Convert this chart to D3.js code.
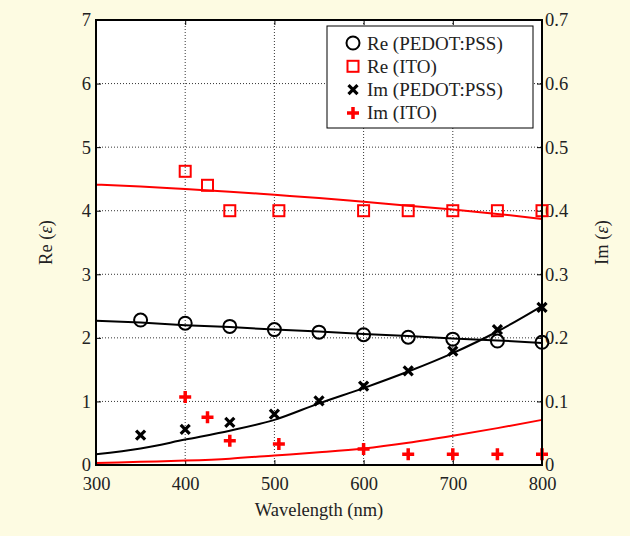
<!DOCTYPE html>
<html>
<head>
<meta charset="utf-8">
<script src="https://cdn.jsdelivr.net/npm/d3@7"></script>
<style>
  body { margin: 0; background: #fdfbe2; }
  svg { display: block; }
  text { font-family: "Liberation Serif", "Times New Roman", serif; fill: #222; }
</style>
</head>
<body>
<div id="chart"></div>
<script>
// valores
const wlMeasured = [350, 400, 450, 500, 550, 600, 650, 700, 750, 800];
const rePedot = [2.28, 2.23, 2.18, 2.13, 2.09, 2.05, 2.01, 1.98, 1.95, 1.93];
const imPedot = [0.047, 0.056, 0.067, 0.080, 0.101, 0.124, 0.148, 0.179, 0.213, 0.248];

const wlIto = [400, 425, 450, 505, 600, 650, 700, 750, 800];
const reIto = [4.62, 4.40, 4.00, 4.00, 4.00, 4.00, 4.00, 4.00, 4.00];
const imIto = [0.107, 0.075, 0.038, 0.033, 0.025, 0.017, 0.017, 0.017, 0.017];

// curvas de ajuste
const wlFit = [300, 350, 400, 450, 500, 550, 600, 650, 700, 750, 800];
const rePedotFit = [2.27, 2.24, 2.20, 2.17, 2.13, 2.10, 2.06, 2.03, 1.99, 1.96, 1.92];
const imPedotFit = [0.017, 0.026, 0.040, 0.054, 0.071, 0.097, 0.121, 0.147, 0.176, 0.210, 0.250];
const reItoFit = [4.41, 4.38, 4.34, 4.30, 4.25, 4.20, 4.14, 4.08, 4.02, 3.95, 3.87];
const imItoFit = [0.003, 0.005, 0.007, 0.010, 0.015, 0.020, 0.026, 0.035, 0.046, 0.058, 0.071];

const xTicks = [300, 400, 500, 600, 700, 800];
const yTicks = [0, 1, 2, 3, 4, 5, 6, 7];
const y2Ticks = [0, 0.1, 0.2, 0.3, 0.4, 0.5, 0.6, 0.7];

const legendItems = [
    { label: 'Re (PEDOT:PSS)', type: 'circle' },
    { label: 'Re (ITO)', type: 'square' },
    { label: 'Im (PEDOT:PSS)', type: 'cross' },
    { label: 'Im (ITO)', type: 'plus' }
];

const width = 630, height = 536;
const margin = { top: 20, right: 88, bottom: 71, left: 96 };
const pw = width - margin.left - margin.right;
const ph = height - margin.top - margin.bottom;
const fs = '18.5px';

const svg = d3.select('#chart').append('svg')
    .attr('width', width)
    .attr('height', height);

const g = svg.append('g').attr('transform', `translate(${margin.left},${margin.top})`);

const x = d3.scaleLinear().domain([300, 800]).range([0, pw]);
const y = d3.scaleLinear().domain([0, 7]).range([ph, 0]);
const y2 = d3.scaleLinear().domain([0, 0.7]).range([ph, 0]);

g.append('rect').attr('width', pw).attr('height', ph).attr('fill', '#fff');

// rejilla punteada
g.selectAll('line.gx').data(xTicks.slice(1, -1)).enter().append('line')
    .attr('x1', (d) => x(d)).attr('x2', (d) => x(d))
    .attr('y1', 0).attr('y2', ph)
    .attr('stroke', '#000').attr('stroke-width', 0.8).attr('stroke-dasharray', '1,2');
g.selectAll('line.gy').data(yTicks.slice(1, -1)).enter().append('line')
    .attr('x1', 0).attr('x2', pw)
    .attr('y1', (d) => y(d)).attr('y2', (d) => y(d))
    .attr('stroke', '#000').attr('stroke-width', 0.8).attr('stroke-dasharray', '1,2');

// ejes con ticks hacia dentro
const tickLen = 5;
const axisStyle = (sel) => {
    sel.select('.domain').remove();
    sel.selectAll('.tick line').attr('stroke', '#000').attr('stroke-width', 1);
    sel.selectAll('.tick text').style('font-size', fs).attr('fill', '#222');
};
g.append('g').attr('transform', `translate(0,${ph})`)
    .call(d3.axisBottom(x).tickValues(xTicks).tickSize(-tickLen).tickPadding(12))
    .call(axisStyle);
g.append('g')
    .call(d3.axisTop(x).tickValues(xTicks).tickSize(-tickLen).tickFormat(''))
    .call(axisStyle);
g.append('g')
    .call(d3.axisLeft(y).tickValues(yTicks).tickSize(-tickLen).tickPadding(5).tickFormat(d3.format('d')))
    .call(axisStyle);
g.append('g').attr('transform', `translate(${pw},0)`)
    .call(d3.axisRight(y2).tickValues(y2Ticks).tickSize(-tickLen).tickPadding(3).tickFormat((d) => d === 0 ? '0' : d3.format('.1f')(d)))
    .call(axisStyle);

// curvas
const lineRe = d3.line().x((d) => x(d[0])).y((d) => y(d[1]));
const lineIm = d3.line().x((d) => x(d[0])).y((d) => y2(d[1])).curve(d3.curveMonotoneX);
const lineRe2 = d3.line().x((d) => x(d[0])).y((d) => y(d[1])).curve(d3.curveMonotoneX);

g.append('path').datum(d3.zip(wlFit, reItoFit)).attr('d', lineRe2)
    .attr('fill', 'none').attr('stroke', '#f00').attr('stroke-width', 2);
g.append('path').datum(d3.zip(wlFit, imItoFit)).attr('d', lineIm)
    .attr('fill', 'none').attr('stroke', '#f00').attr('stroke-width', 2);
g.append('path').datum(d3.zip(wlFit, rePedotFit)).attr('d', lineRe)
    .attr('fill', 'none').attr('stroke', '#000').attr('stroke-width', 2);
g.append('path').datum(d3.zip(wlFit, imPedotFit)).attr('d', lineIm)
    .attr('fill', 'none').attr('stroke', '#000').attr('stroke-width', 2);

// marcadores
function drawMarker(sel, type) {
    if (type === 'circle') {
        sel.append('circle').attr('r', 6.5).attr('fill', 'none').attr('stroke', '#000').attr('stroke-width', 2);
    } else if (type === 'square') {
        sel.append('rect').attr('x', -5.5).attr('y', -5.5).attr('width', 11).attr('height', 11)
            .attr('fill', 'none').attr('stroke', '#f00').attr('stroke-width', 2);
    } else if (type === 'cross') {
        sel.append('path').attr('d', 'M-4.5,-4.5L4.5,4.5M-4.5,4.5L4.5,-4.5')
            .attr('stroke', '#000').attr('stroke-width', 3.2);
    } else if (type === 'plus') {
        sel.append('path').attr('d', 'M-6,0L6,0M0,-6L0,6')
            .attr('stroke', '#f00').attr('stroke-width', 3.5);
    }
}

function drawSeries(xs, ys, scale, type) {
    g.selectAll(null).data(d3.zip(xs, ys)).enter().append('g')
        .attr('transform', (d) => `translate(${x(d[0])},${scale(d[1])})`)
        .each(function () { drawMarker(d3.select(this), type); });
}
drawSeries(wlMeasured, rePedot, y, 'circle');
drawSeries(wlIto, reIto, y, 'square');
drawSeries(wlMeasured, imPedot, y2, 'cross');
drawSeries(wlIto, imIto, y2, 'plus');

// caja
g.append('rect').attr('width', pw).attr('height', ph)
    .attr('fill', 'none').attr('stroke', '#000').attr('stroke-width', 2);

// leyenda
const legend = svg.append('g').attr('transform', 'translate(327,26)');
legend.append('rect').attr('width', 206).attr('height', 102)
    .attr('fill', '#fff').attr('stroke', '#000').attr('stroke-width', 1);
const items = legend.selectAll('g.item').data(legendItems).enter().append('g')
    .attr('transform', (d, i) => `translate(26,${17 + i * 23.3})`);
items.each(function (d) { drawMarker(d3.select(this), d.type); });
items.append('text').attr('x', 14).attr('y', 6.5).style('font-size', '19px').text((d) => d.label);

// titulos de ejes
svg.append('text').attr('x', margin.left + pw / 2).attr('y', 516)
    .attr('text-anchor', 'middle').style('font-size', fs).text('Wavelength (nm)');
const yl = svg.append('text').attr('transform', `translate(52,${margin.top + ph / 2}) rotate(-90)`)
    .attr('text-anchor', 'middle').style('font-size', fs);
yl.append('tspan').text('Re (');
yl.append('tspan').style('font-style', 'italic').text('ε');
yl.append('tspan').text(')');
const yr = svg.append('text').attr('transform', `translate(608,${margin.top + ph / 2}) rotate(-90)`)
    .attr('text-anchor', 'middle').style('font-size', fs);
yr.append('tspan').text('Im (');
yr.append('tspan').style('font-style', 'italic').text('ε');
yr.append('tspan').text(')');
</script>
</body>
</html>
